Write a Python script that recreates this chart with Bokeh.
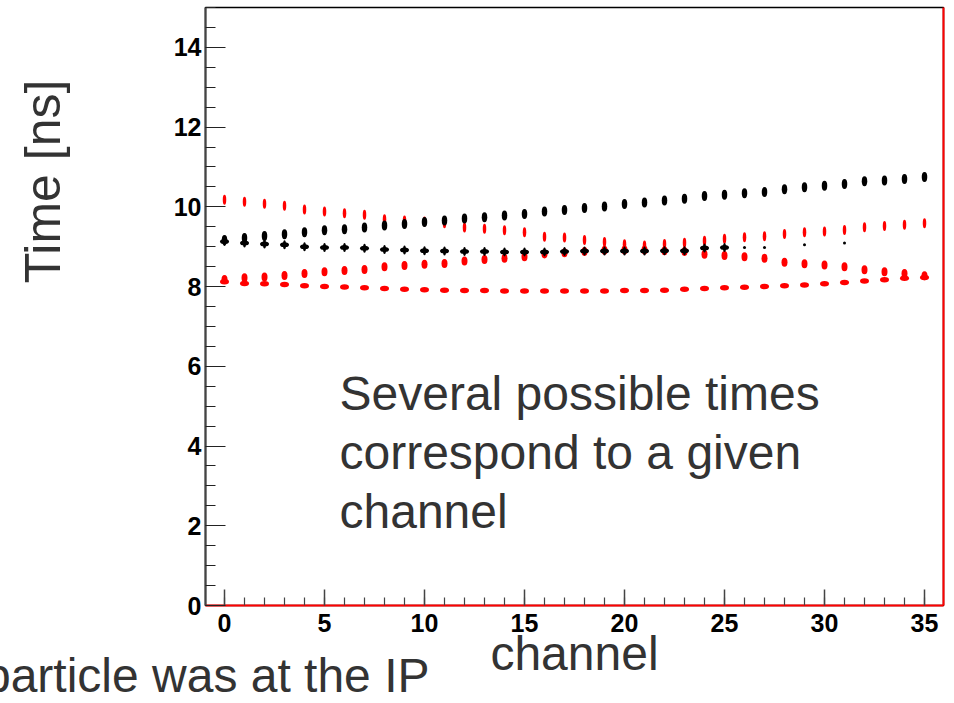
from bokeh.plotting import figure
from bokeh.models import Range1d, LinearAxis, SingleIntervalTicker, FixedTicker, Label, Title
from bokeh.embed import file_html
from bokeh.resources import INLINE

# ---------------- data ----------------
channels = list(range(36))

black_upper = [9.17, 9.22, 9.27, 9.31, 9.36, 9.41, 9.44, 9.48, 9.53, 9.57,
               9.62, 9.66, 9.71, 9.74, 9.78, 9.82, 9.88, 9.92, 9.97, 10.01,
               10.07, 10.11, 10.16, 10.20, 10.27, 10.30, 10.34, 10.37, 10.44, 10.49,
               10.53, 10.57, 10.64, 10.66, 10.70, 10.75]

black_lower_ch = list(range(26))
black_lower = [9.13, 9.09, 9.07, 9.05, 9.00, 8.98, 8.98, 8.96, 8.93, 8.92,
               8.90, 8.89, 8.88, 8.88, 8.87, 8.87, 8.87, 8.88, 8.89, 8.89,
               8.89, 8.89, 8.90, 8.90, 8.97, 8.98]

black_faint_ch = [26, 27, 29, 31]
black_faint = [8.98, 8.98, 9.05, 9.09]

red_upper = [10.18, 10.13, 10.08, 10.03, 9.93, 9.88, 9.84, 9.80, 9.69, 9.66,
             9.63, 9.59, 9.48, 9.45, 9.41, 9.36, 9.25, 9.23, 9.17, 9.12,
             9.06, 9.03, 9.07, 9.10, 9.15, 9.20, 9.24, 9.26, 9.32, 9.36,
             9.38, 9.42, 9.49, 9.52, 9.55, 9.59]

red_middle = [8.18, 8.22, 8.24, 8.28, 8.33, 8.37, 8.40, 8.43, 8.50, 8.53,
              8.56, 8.58, 8.64, 8.68, 8.71, 8.75, 8.82, 8.85, 8.88, 8.91,
              8.92, 8.92, 8.90, 8.88, 8.81, 8.78, 8.75, 8.71, 8.61, 8.57,
              8.54, 8.50, 8.42, 8.37, 8.33, 8.27]

red_bottom = [8.12, 8.08, 8.07, 8.05, 8.02, 8.00, 7.99, 7.97, 7.95, 7.93,
              7.92, 7.91, 7.90, 7.90, 7.89, 7.89, 7.89, 7.89, 7.89, 7.89,
              7.90, 7.90, 7.91, 7.93, 7.95, 7.97, 7.98, 8.00, 8.02, 8.04,
              8.07, 8.10, 8.14, 8.17, 8.21, 8.23]

x_label = "channel"
y_label = "Time [ns]"
note_lines = ["Several possible times", "correspond to a given", "channel"]
note_y = [5.33, 3.84, 2.37]
cut_text = "particle was at the IP"

# ---------------- figure ----------------
p = figure(width=954, height=703,
           x_range=Range1d(-0.95, 35.95), y_range=Range1d(0, 15),
           output_backend="svg", toolbar_location=None,
           min_border_left=205, min_border_right=11,
           min_border_top=7, min_border_bottom=98)
p.background_fill_color = "white"
p.border_fill_color = "white"
p.grid.visible = False
p.outline_line_color = "black"
p.outline_line_width = 1.5

FONT = "Liberation Sans"
TXT = "#333333"

# x axis
xa = p.xaxis[0]
xa.ticker = SingleIntervalTicker(interval=5, num_minor_ticks=5)
xa.axis_line_color = "red"
xa.axis_line_width = 2
xa.major_tick_in = 16
xa.major_tick_out = 0
xa.minor_tick_in = 8
xa.minor_tick_out = 0
xa.major_tick_line_color = "#444444"
xa.minor_tick_line_color = "#444444"
xa.major_tick_line_width = 1.5
xa.minor_tick_line_width = 1.2
xa.major_label_text_font = FONT
xa.major_label_text_font_style = "bold"
xa.major_label_text_font_size = "25px"
xa.major_label_text_color = "black"
xa.major_label_standoff = 8
xa.axis_label = x_label
xa.axis_label_text_font = FONT
xa.axis_label_text_font_style = "normal"
xa.axis_label_text_font_size = "48px"
xa.axis_label_text_color = TXT
xa.axis_label_standoff = -8

# y axis
ya = p.yaxis[0]
ya.ticker = SingleIntervalTicker(interval=2, num_minor_ticks=4)
ya.axis_line_color = "#444444"
ya.axis_line_width = 2
ya.major_tick_in = 20
ya.major_tick_out = 0
ya.minor_tick_in = 10
ya.minor_tick_out = 0
ya.major_tick_line_color = "#222222"
ya.minor_tick_line_color = "#222222"
ya.major_tick_line_width = 1.2
ya.minor_tick_line_width = 1.2
ya.major_label_text_font = FONT
ya.major_label_text_font_style = "bold"
ya.major_label_text_font_size = "25px"
ya.major_label_text_color = "black"
ya.major_label_standoff = 4
# the label sits above the middle of the axis: lead it with no-break spaces
ya.axis_label = "\u00a0" * 18 + y_label
ya.axis_label_text_font = FONT
ya.axis_label_text_font_style = "normal"
ya.axis_label_text_font_size = "50px"
ya.axis_label_text_color = TXT
ya.axis_label_standoff = 100

# right frame edge in red
ra = LinearAxis(ticker=FixedTicker(ticks=[]), axis_line_color="red", axis_line_width=2,
                major_tick_line_color=None, minor_tick_line_color=None,
                major_label_text_color=None)
p.add_layout(ra, "right")

# text cut at the bottom-left edge of the slide
p.add_layout(Title(text=cut_text, align="right", offset=514, vertical_align="top",
                   standoff=-68, text_font=FONT, text_font_size="48px",
                   text_font_style="normal", text_color=TXT), "below")

# ---------------- marks ----------------
def blobs(xs, ys, w, h, color):
    p.ellipse(x=xs, y=ys, width=w, height=h, width_units="screen", height_units="screen",
              fill_color=color, line_color=None)

blobs(channels, red_bottom, 9, 5.5, "red")
blobs(channels, red_middle, 6, 9, "red")
blobs(channels, red_upper, 3.5, 10, "red")
blobs(black_lower_ch, black_lower, 9, 5, "black")
blobs(black_lower_ch, black_lower, 3, 9, "black")
blobs(black_faint_ch, black_faint, 3, 3, "black")
blobs(channels, black_upper, 5.5, 10, "black")

# ---------------- note inside the frame ----------------
for yy, line in zip(note_y, note_lines):
    p.add_layout(Label(x=5.75, y=yy, text=line, text_align="left",
                       text_baseline="alphabetic", text_font=FONT,
                       text_font_size="48px", text_color=TXT))

open("out.html", "w").write(file_html(p, INLINE))
